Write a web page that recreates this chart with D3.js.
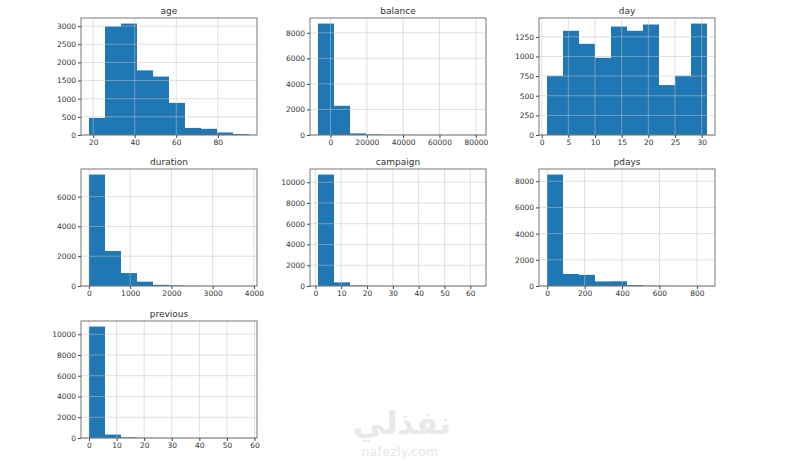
<!DOCTYPE html>
<html>
<head>
<meta charset="utf-8">
<script src="https://d3js.org/d3.v7.min.js"></script>
<style>
  body { margin: 0; background: #fff; }
  text { font-family: "DejaVu Sans", sans-serif; fill: #333; }
  .tick text { font-size: 7.5px; }
  .title { font-size: 9px; font-weight: normal; }
</style>
</head>
<body>
<svg width="800" height="460"></svg>
<script>
// histogram panels: column name, data range, 10 bin counts, ticks
var names = ["age", "balance", "day", "duration", "campaign", "pdays", "previous"];

var ageRange = [18, 95],
    balanceRange = [-6847, 81204],
    dayRange = [1, 31],
    durationRange = [2, 3881],
    campaignRange = [1, 63],
    pdaysRange = [-1, 854],
    previousRange = [0, 58];

var ageCounts = [470, 2990, 3070, 1780, 1610, 885, 195, 170, 70, 25],
    balanceCounts = [8720, 2285, 125, 40, 15, 8, 4, 3, 1, 2],
    dayCounts = [754, 1327, 1161, 983, 1381, 1327, 1407, 636, 754, 1419],
    durationCounts = [7480, 2350, 870, 290, 80, 30, 12, 6, 3, 2],
    campaignCounts = [10740, 350, 50, 14, 5, 2, 1, 0, 0, 1],
    pdaysCounts = [8510, 920, 850, 350, 360, 75, 20, 8, 4, 3],
    previousCounts = [10740, 330, 60, 15, 6, 3, 1, 1, 0, 1];

var ageXTicks = [20, 40, 60, 80], ageYTicks = [0, 500, 1000, 1500, 2000, 2500, 3000];
var balanceXTicks = [0, 20000, 40000, 60000, 80000], balanceYTicks = [0, 2000, 4000, 6000, 8000];
var dayXTicks = [0, 5, 10, 15, 20, 25, 30], dayYTicks = [0, 250, 500, 750, 1000, 1250];
var durationXTicks = [0, 1000, 2000, 3000, 4000], durationYTicks = [0, 2000, 4000, 6000];
var campaignXTicks = [0, 10, 20, 30, 40, 50, 60], campaignYTicks = [0, 2000, 4000, 6000, 8000, 10000];
var pdaysXTicks = [0, 200, 400, 600, 800], pdaysYTicks = [0, 2000, 4000, 6000, 8000];
var previousXTicks = [0, 10, 20, 30, 40, 50, 60], previousYTicks = [0, 2000, 4000, 6000, 8000, 10000];

var panels = [
  {name: "age", range: ageRange, counts: ageCounts, xt: ageXTicks, yt: ageYTicks},
  {name: "balance", range: balanceRange, counts: balanceCounts, xt: balanceXTicks, yt: balanceYTicks},
  {name: "day", range: dayRange, counts: dayCounts, xt: dayXTicks, yt: dayYTicks},
  {name: "duration", range: durationRange, counts: durationCounts, xt: durationXTicks, yt: durationYTicks},
  {name: "campaign", range: campaignRange, counts: campaignCounts, xt: campaignXTicks, yt: campaignYTicks},
  {name: "pdays", range: pdaysRange, counts: pdaysCounts, xt: pdaysXTicks, yt: pdaysYTicks},
  {name: "previous", range: previousRange, counts: previousCounts, xt: previousXTicks, yt: previousYTicks}
];

var svg = d3.select("svg"),
    colLeft = [81, 310, 539],
    rowTop = [18, 169, 321],
    w = 176,
    h = 117;

panels.forEach(function(p, i) {
  var g = svg.append("g")
    .attr("transform", "translate(" + colLeft[i % 3] + "," + rowTop[Math.floor(i / 3)] + ")");

  var lo = p.range[0], hi = p.range[1], span = hi - lo, step = span / p.counts.length;
  var x = d3.scaleLinear().domain([lo - 0.05 * span, hi + 0.05 * span]).range([0, w]);
  var y = d3.scaleLinear().domain([0, d3.max(p.counts) * 1.05]).range([h, 0]);

  g.selectAll("rect")
    .data(p.counts)
    .enter().append("rect")
    .attr("x", function(d, j) { return x(lo + j * step); })
    .attr("width", function(d, j) { return x(lo + (j + 1) * step) - x(lo + j * step); })
    .attr("y", function(d) { return y(d); })
    .attr("height", function(d) { return h - y(d); })
    .attr("fill", "#1f77b4");

  // grid sits above the bars, like matplotlib
  var grid = g.append("g").attr("stroke", "#c4c4c4").attr("stroke-opacity", 0.65).attr("stroke-width", 0.8);
  grid.selectAll(".gx").data(p.xt).enter().append("line")
    .attr("x1", x).attr("x2", x).attr("y1", 0).attr("y2", h);
  grid.selectAll(".gy").data(p.yt).enter().append("line")
    .attr("y1", y).attr("y2", y).attr("x1", 0).attr("x2", w);

  var xAxis = g.append("g").attr("transform", "translate(0," + h + ")")
    .call(d3.axisBottom(x).tickValues(p.xt).tickSize(3).tickPadding(2).tickFormat(d3.format("d")));
  var yAxis = g.append("g")
    .call(d3.axisLeft(y).tickValues(p.yt).tickSize(3).tickPadding(2).tickFormat(d3.format("d")));
  [xAxis, yAxis].forEach(function(a) {
    a.select(".domain").remove();
    a.selectAll("line").attr("stroke", "#444");
    a.selectAll("text").attr("fill", "#333").style("font-family", "DejaVu Sans");
  });

  g.append("rect")
    .attr("width", w).attr("height", h)
    .attr("fill", "none").attr("stroke", "#555").attr("stroke-width", 0.8);

  g.append("text")
    .attr("class", "title")
    .attr("x", w / 2).attr("y", -4)
    .attr("text-anchor", "middle")
    .text(p.name);
});

// site watermark
svg.append("text")
  .attr("x", 402).attr("y", 434)
  .attr("text-anchor", "middle")
  .style("font-size", "32px").style("font-weight", "bold")
  .style("fill", "#e9e9e9")
  .text("نفذلي");
svg.append("text")
  .attr("x", 400).attr("y", 456)
  .attr("text-anchor", "middle")
  .style("font-size", "12px").style("letter-spacing", "0.5px")
  .style("fill", "#e6e6e6")
  .text("nafezly.com");
</script>
</body>
</html>
